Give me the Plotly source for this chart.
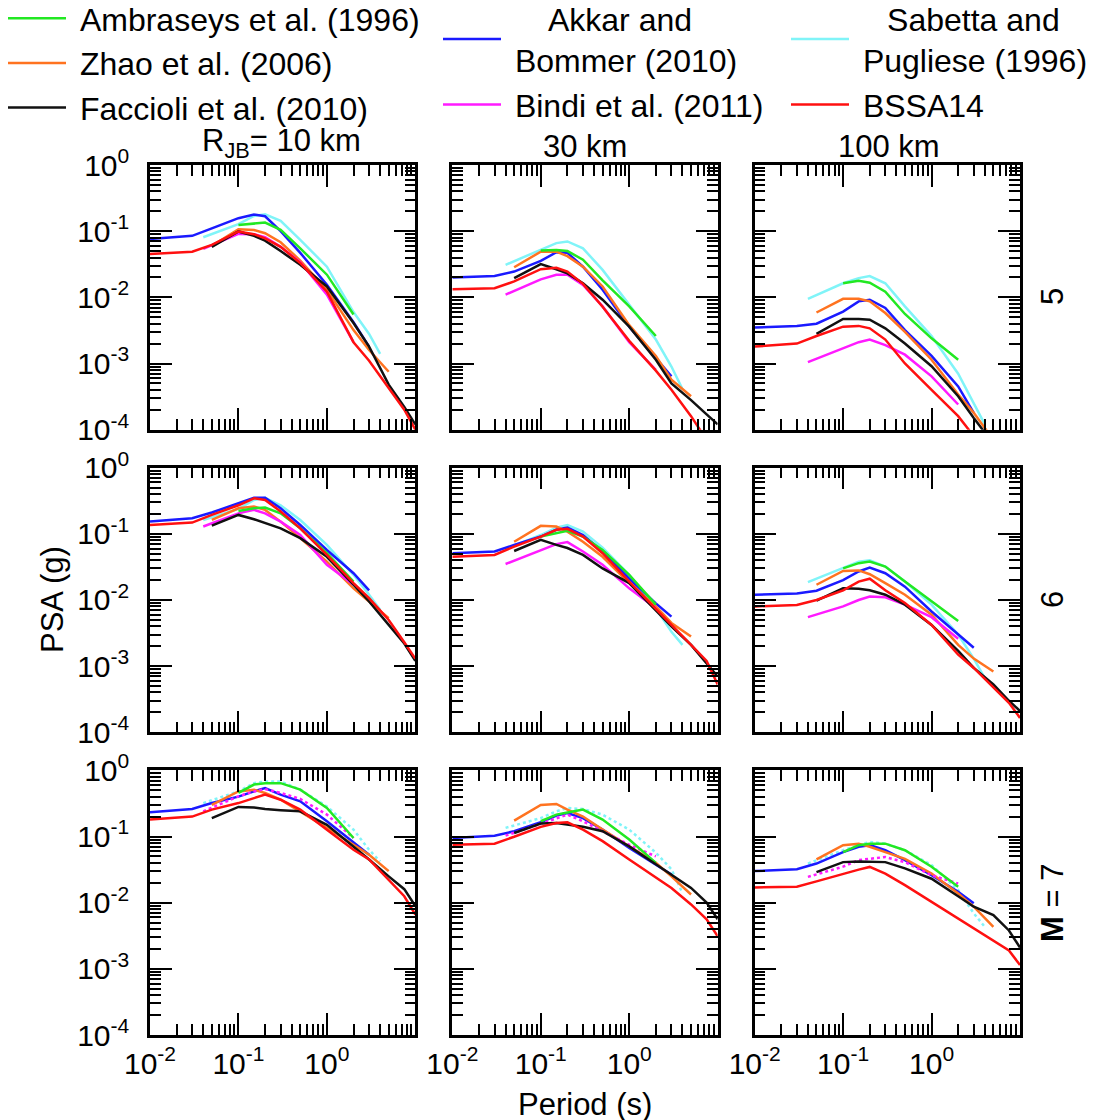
import plotly.graph_objects as go
from plotly.subplots import make_subplots

# ---------------- periods (s) per model ----------------
T_AMB = [0.1, 0.15, 0.2, 0.3, 0.5, 1, 2]
T_ZHAO = [0.05, 0.1, 0.15, 0.2, 0.3, 0.5, 1, 2, 3, 5]
T_FAC = [0.05, 0.1, 0.15, 0.2, 0.3, 0.5, 1, 2, 3, 5, 7.5, 10]
T_AB = [0.01, 0.03, 0.05, 0.1, 0.15, 0.2, 0.3, 0.5, 1, 2, 3]
T_BINDI = [0.04, 0.1, 0.15, 0.2, 0.3, 0.5, 1, 2]
T_SP = [0.04, 0.1, 0.15, 0.2, 0.3, 0.5, 1, 2, 3, 4]
T_BSSA = [0.01, 0.03, 0.05, 0.1, 0.15, 0.2, 0.3, 0.5, 1, 2, 3, 5, 7.5, 10]

MAGS = [5, 6, 7]
DISTS = [10, 30, 100]

# ---------------- PSA (g): rows = R_JB 10, 30, 100 km ----------------
AMB_M5 = [[0.124, 0.13, 0.135, 0.105, 0.055, 0.022, 0.0055],
          [0.051, 0.052, 0.050, 0.037, 0.018, 0.0073, 0.0026],
          [0.0163, 0.0178, 0.0166, 0.0122, 0.0056, 0.0024, 0.00114]]
AMB_M6 = [[0.222, 0.243, 0.249, 0.204, 0.121, 0.051, 0.019],
          [0.091, 0.102, 0.111, 0.091, 0.057, 0.024, 0.0085],
          [0.030, 0.036, 0.038, 0.032, 0.019, 0.0095, 0.0048]]
AMB_M7 = [[0.455, 0.61, 0.64, 0.64, 0.51, 0.27, 0.095],
          [0.17, 0.214, 0.23, 0.255, 0.18, 0.09, 0.040],
          [0.058, 0.074, 0.078, 0.078, 0.062, 0.035, 0.0174]]

ZHAO_M5 = [[0.06, 0.107, 0.104, 0.093, 0.068, 0.036, 0.013, 0.0032, 0.0016, 0.00075],
           [0.0285, 0.049, 0.049, 0.042, 0.029, 0.0146, 0.0038, 0.0013, 0.00057, 0.00032],
           [0.0059, 0.0095, 0.0095, 0.0087, 0.0058, 0.003, 0.00114, 0.00034, 0.00018, 0.00007]]
ZHAO_M6 = [[0.162, 0.243, 0.258, 0.23, 0.153, 0.086, 0.038, 0.015, 0.0095, 0.0053],
           [0.076, 0.132, 0.129, 0.108, 0.076, 0.045, 0.018, 0.008, 0.0045, 0.0028],
           [0.017, 0.0275, 0.028, 0.0245, 0.018, 0.012, 0.006, 0.0021, 0.0013, 0.00083]]
ZHAO_M7 = [[0.30, 0.48, 0.51, 0.455, 0.36, 0.24, 0.135, 0.075, 0.053, 0.030],
           [0.174, 0.30, 0.31, 0.255, 0.20, 0.127, 0.071, 0.040, 0.025, 0.0133],
           [0.045, 0.074, 0.078, 0.07, 0.058, 0.046, 0.0275, 0.0138, 0.0087, 0.0043]]

FAC_M5 = [[0.058, 0.099, 0.085, 0.072, 0.05, 0.031, 0.0146, 0.0041, 0.0018, 0.00048, 0.00022, 0.00012],
          [0.0195, 0.0317, 0.0266, 0.023, 0.0163, 0.0092, 0.0036, 0.00114, 0.0005, 0.00028, 0.00017, 0.00012],
          [0.0028, 0.0047, 0.0047, 0.0046, 0.0034, 0.002, 0.00091, 0.00032, 0.00015, 0.00006, 0.00003, 0.00002]]
FAC_M6 = [[0.133, 0.193, 0.166, 0.145, 0.121, 0.086, 0.045, 0.017, 0.0095, 0.0042, 0.0022, 0.0012],
          [0.055, 0.081, 0.068, 0.061, 0.048, 0.030, 0.018, 0.0071, 0.0040, 0.0021, 0.0011, 0.0007],
          [0.0098, 0.015, 0.0148, 0.014, 0.012, 0.0085, 0.0042, 0.0017, 0.00094, 0.00053, 0.0003, 0.00021]]
FAC_M7 = [[0.19, 0.28, 0.275, 0.26, 0.25, 0.24, 0.15, 0.071, 0.045, 0.025, 0.016, 0.0089],
          [0.113, 0.157, 0.16, 0.151, 0.14, 0.12, 0.071, 0.038, 0.0266, 0.0167, 0.010, 0.0056],
          [0.029, 0.041, 0.042, 0.042, 0.041, 0.033, 0.023, 0.0125, 0.0087, 0.0065, 0.0038, 0.0021]]

AB_M5 = [[0.076, 0.085, 0.11, 0.157, 0.178, 0.168, 0.10, 0.047, 0.0155, 0.0042, 0.0018],
         [0.020, 0.021, 0.0245, 0.0355, 0.048, 0.047, 0.029, 0.013, 0.0036, 0.0012, 0.00064],
         [0.0035, 0.0037, 0.004, 0.0061, 0.0087, 0.0092, 0.0069, 0.0032, 0.0013, 0.00045, 0.00018]]
AB_M6 = [[0.153, 0.172, 0.21, 0.29, 0.35, 0.35, 0.243, 0.136, 0.057, 0.0254, 0.014],
         [0.051, 0.054, 0.068, 0.091, 0.115, 0.124, 0.096, 0.054, 0.021, 0.0089, 0.0056],
         [0.012, 0.0125, 0.0138, 0.020, 0.027, 0.031, 0.0254, 0.0159, 0.0067, 0.003, 0.0019]]
AB_M7 = [[0.232, 0.26, 0.32, 0.40, 0.48, 0.54, 0.43, 0.34, 0.17, 0.080, 0.053],
         [0.095, 0.103, 0.12, 0.164, 0.207, 0.227, 0.19, 0.127, 0.067, 0.038, 0.0266],
         [0.030, 0.032, 0.039, 0.058, 0.07, 0.074, 0.062, 0.044, 0.026, 0.0146, 0.0098]]

BINDI_M5 = [[0.054, 0.091, 0.09, 0.081, 0.058, 0.034, 0.011, 0.0021],
            [0.011, 0.0187, 0.022, 0.022, 0.0154, 0.0073, 0.0021, 0.0008],
            [0.00105, 0.0017, 0.0021, 0.0023, 0.0019, 0.00136, 0.00064, 0.00024]]
BINDI_M6 = [[0.129, 0.204, 0.23, 0.204, 0.153, 0.096, 0.034, 0.017],
            [0.035, 0.057, 0.07, 0.075, 0.054, 0.034, 0.015, 0.0075],
            [0.0055, 0.008, 0.010, 0.0113, 0.011, 0.0085, 0.0055, 0.0026]]
BINDI_M7 = [[0.24, 0.405, 0.48, 0.52, 0.455, 0.37, 0.214, 0.095],
            [0.103, 0.157, 0.19, 0.214, 0.17, 0.12, 0.075, 0.05],
            [0.0245, 0.035, 0.044, 0.046, 0.049, 0.041, 0.026, 0.0195]]

SP_M5 = [[0.081, 0.128, 0.17, 0.18, 0.143, 0.074, 0.029, 0.006, 0.0028, 0.0014],
         [0.031, 0.052, 0.066, 0.070, 0.055, 0.026, 0.0077, 0.0023, 0.0009, 0.00041],
         [0.0095, 0.0163, 0.0195, 0.021, 0.0163, 0.0073, 0.0026, 0.0007, 0.00025, 0.00012]]
SP_M6 = [[0.162, 0.238, 0.325, 0.35, 0.27, 0.162, 0.068, 0.024, 0.012, 0.0071],
         [0.059, 0.096, 0.124, 0.136, 0.108, 0.062, 0.024, 0.0075, 0.0033, 0.0021],
         [0.0186, 0.030, 0.038, 0.040, 0.032, 0.019, 0.0085, 0.003, 0.0013, 0.00066]]
SP_M7 = [[0.32, 0.48, 0.64, 0.68, 0.68, 0.51, 0.285, 0.127, 0.063, 0.042],
         [0.135, 0.19, 0.24, 0.27, 0.26, 0.214, 0.127, 0.057, 0.032, 0.014],
         [0.039, 0.062, 0.074, 0.083, 0.078, 0.062, 0.037, 0.0155, 0.0069, 0.0043]]

BSSA_M5 = [[0.045, 0.049, 0.062, 0.099, 0.09, 0.078, 0.058, 0.033, 0.0122, 0.0021, 0.0011, 0.00042, 0.0002, 0.0001],
           [0.0133, 0.0137, 0.0174, 0.0266, 0.028, 0.0245, 0.016, 0.0072, 0.0022, 0.00078, 0.0004, 0.00016, 0.00007, 0.000045],
           [0.0018, 0.002, 0.0026, 0.0036, 0.0037, 0.0034, 0.0023, 0.001, 0.0004, 0.00016, 0.00008, 0.00003, 0.000015, 0.000008]]
BSSA_M6 = [[0.136, 0.148, 0.193, 0.27, 0.344, 0.325, 0.218, 0.121, 0.048, 0.018, 0.0107, 0.005, 0.0023, 0.0013],
           [0.045, 0.048, 0.064, 0.091, 0.115, 0.119, 0.091, 0.051, 0.019, 0.0075, 0.0042, 0.0021, 0.0012, 0.00053],
           [0.008, 0.0084, 0.010, 0.014, 0.019, 0.021, 0.014, 0.009, 0.0042, 0.0015, 0.00094, 0.00047, 0.00028, 0.000165]]
BSSA_M7 = [[0.18, 0.20, 0.255, 0.32, 0.38, 0.43, 0.36, 0.255, 0.127, 0.063, 0.045, 0.0224, 0.0125, 0.0066],
           [0.075, 0.078, 0.099, 0.14, 0.16, 0.164, 0.127, 0.085, 0.045, 0.0237, 0.0167, 0.0094, 0.0056, 0.0031],
           [0.017, 0.0174, 0.021, 0.0275, 0.0316, 0.0347, 0.0275, 0.0184, 0.0103, 0.0058, 0.0041, 0.0027, 0.0019, 0.00114]]

NB = "\u00a0"
MODELS = [
    # name, color, periods, data by magnitude, legend, dotted magnitudes
    (NB + "Ambraseys et al. (1996)", "#22e822", T_AMB, {5: AMB_M5, 6: AMB_M6, 7: AMB_M7}, "legend", []),
    (NB + "Zhao et al. (2006)", "#ff7320", T_ZHAO, {5: ZHAO_M5, 6: ZHAO_M6, 7: ZHAO_M7}, "legend", []),
    (NB + "Faccioli et al. (2010)", "#111111", T_FAC, {5: FAC_M5, 6: FAC_M6, 7: FAC_M7}, "legend", []),
    (NB * 4 + "\u2009Akkar and<br>" + NB + "Bommer (2010)", "#1a1aff", T_AB, {5: AB_M5, 6: AB_M6, 7: AB_M7}, "legend2", []),
    (NB + "Bindi et al. (2011)", "#ff1aff", T_BINDI, {5: BINDI_M5, 6: BINDI_M6, 7: BINDI_M7}, "legend2", [7]),
    (NB * 3 + "\u2009Sabetta and<br>" + NB + "Pugliese (1996)", "#80f4f8", T_SP, {5: SP_M5, 6: SP_M6, 7: SP_M7}, "legend3", [7]),
    (NB + "BSSA14", "#ff1010", T_BSSA, {5: BSSA_M5, 6: BSSA_M6, 7: BSSA_M7}, "legend3", []),
]

W, H = 1095, 1120
OFF = 8  # page offset of the figure (body margin)
ML, MT = 150 - OFF, 165 - OFF
PW, PH = 870, 870
MR, MB = W - ML - PW, H - MT - PH

fig = make_subplots(rows=3, cols=3, horizontal_spacing=37 / PW, vertical_spacing=38 / PH)

draw_order = [5, 3, 1, 4, 0, 2, 6]  # drawing order (BSSA14 on top)
for i, m in enumerate(MAGS):
    for j, d in enumerate(DISTS):
        for k in draw_order:
            name, color, T, data, leg, dotted = MODELS[k]
            fig.add_trace(go.Scatter(
                x=T, y=data[m][j], mode="lines", name=name,
                line=dict(color=color, width=2.5, dash="dot" if m in dotted else "solid"),
                legend=leg, legendrank=k, showlegend=(i == 0 and j == 0),
                legendgroup=name,
            ), row=i + 1, col=j + 1)

FONT = "Liberation Sans, Arial, sans-serif"
xt_vals = [0.01, 0.1, 1, 10]
xt_text = ["10<sup>-2</sup>", "10<sup>-1</sup>", "10<sup>0</sup>", ""]
yt_vals = [1e-4, 1e-3, 1e-2, 1e-1, 1]
yt_text = ["10<sup>-4</sup>", "10<sup>-3</sup>", "10<sup>-2</sup>", "10<sup>-1</sup>", "10<sup>0</sup>"]

common = dict(type="log", showline=True, linecolor="black", linewidth=2.5, mirror="allticks",
              ticks="inside", ticklen=22, tickwidth=2, tickcolor="black", showgrid=False,
              zeroline=False, tickfont=dict(family=FONT, size=30, color="black"),
              minor=dict(ticks="inside", ticklen=11, tickwidth=1.6, tickcolor="black",
                         dtick="D1", showgrid=False))
for i in range(3):
    for j in range(3):
        fig.update_xaxes(range=[-2, 1], tickmode="array", tickvals=xt_vals,
                         ticktext=xt_text if i == 2 else [""] * 4,
                         row=i + 1, col=j + 1, **common)
        fig.update_yaxes(range=[-4, 0], tickmode="array", tickvals=yt_vals,
                         ticktext=yt_text if j == 0 else [""] * 5,
                         ticklabelstandoff=12,
                         row=i + 1, col=j + 1, **common)


def px(xp, yp):
    """page pixel -> paper coords"""
    return (xp - OFF - ML) / PW, (H - MB - (yp - OFF)) / PH


legfont = dict(family=FONT, size=32, color="black")
legcommon = dict(xref="paper", yref="paper", xanchor="left", yanchor="top",
                 bgcolor="rgba(0,0,0,0)", font=legfont, tracegroupgap=0,
                 traceorder="normal", itemwidth=58)
ly = px(0, -9)[1]
fig.update_layout(
    width=W, height=H,
    margin=dict(l=ML, r=MR, t=MT, b=MB, autoexpand=False),
    paper_bgcolor="white", plot_bgcolor="white",
    font=dict(family=FONT, size=30, color="black"),
    showlegend=True,
    legend=dict(x=px(3, 0)[0], y=ly, **legcommon),
    legend2=dict(x=px(438, 0)[0], y=ly, **legcommon),
    legend3=dict(x=px(786, 0)[0], y=ly, **legcommon),
)

ann = dict(xref="paper", yref="paper", showarrow=False, xanchor="center", yanchor="middle")
# column titles
col_titles = ["R<sub>JB</sub>= 10 km", "30 km", "100 km"]
col_pos = [(281, 143), (585, 146), (889, 146)]
for t, (xp, yp) in zip(col_titles, col_pos):
    x, y = px(xp, yp)
    fig.add_annotation(text=t, x=x, y=y, font=dict(family=FONT, size=31), **ann)
# row labels
row_labels = ["5", "6", "<b>M</b> = 7"]
row_py = [297, 600, 903]
for t, yp in zip(row_labels, row_py):
    x, y = px(1052, yp)
    fig.add_annotation(text=t, x=x, y=y, textangle=-90, font=dict(family=FONT, size=31), **ann)
# axis titles
x, y = px(52, 600)
fig.add_annotation(text="PSA (g)", x=x, y=y, textangle=-90, font=dict(family=FONT, size=31), **ann)
x, y = px(585, 1104)
fig.add_annotation(text="Period (s)", x=x, y=y, font=dict(family=FONT, size=31), **ann)

fig.write_html("out.html")
